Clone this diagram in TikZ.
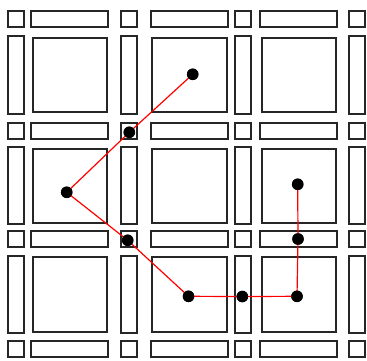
\documentclass[tikz,border=0pt]{standalone}
\begin{document}
\begin{tikzpicture}[x=1pt,y=-1pt,
  cell/.style={draw=black!85,line width=1.5pt},
  dot/.style={circle,fill=black,inner sep=0pt,minimum size=11.5pt},
  route/.style={draw=red,line width=1.2pt}]
\useasboundingbox (0,0) rectangle (367,360);
% small squares
\foreach \sx in {8,121,235,349}{
  \foreach \sy in {11,123,231,341}{
    \draw[cell] (\sx,\sy) rectangle ++(16,16);
  }
}
% horizontal bars
\foreach \ba/\bb in {31/108,151/228,260/337}{
  \foreach \sy in {11,123,231,341}{
    \draw[cell] (\ba,\sy) rectangle (\bb,\sy+16);
  }
}
% vertical bars
\foreach \sx in {8,121,235,349}{
  \foreach \ta/\tb in {36/114,147/224,256/333}{
    \draw[cell] (\sx,\ta) rectangle (\sx+16,\tb);
  }
}
% big squares
\foreach \qa/\qb in {33/107,152/227,262/336}{
  \foreach \ra/\rb in {38/112,149/223,257/332}{
    \draw[cell] (\qa,\ra) rectangle (\qb,\rb);
  }
}
% route
\node[dot] (a) at (192.7,74.3) {};
\node[dot] (b) at (129.3,132.3) {};
\node[dot] (c) at (66.7,192.3) {};
\node[dot] (d) at (127.7,240.3) {};
\node[dot] (e) at (188.5,296.3) {};
\node[dot] (f) at (242.3,296.5) {};
\node[dot] (g) at (297,296.3) {};
\node[dot] (h) at (298,239) {};
\node[dot] (i) at (297.7,184.3) {};
\draw[route] (a.center) -- (b.center) -- (c.center) -- (d.center) -- (e.center) -- (f.center) -- (g.center) -- (h.center) -- (i.center);
\foreach \n in {a,b,c,d,e,f,g,h,i}{\node[dot] at (\n) {};}
\end{tikzpicture}
\end{document}
